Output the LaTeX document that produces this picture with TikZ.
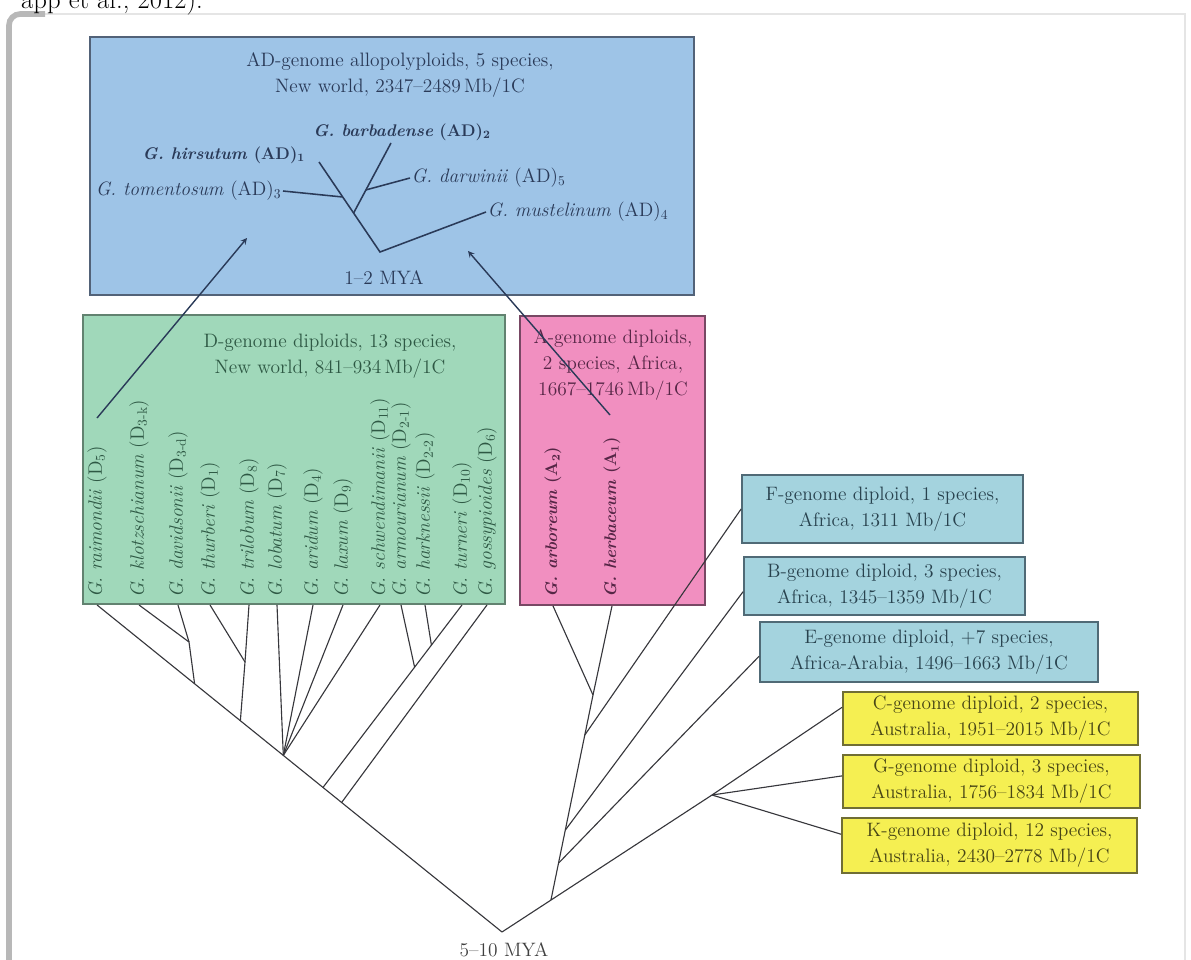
\documentclass[tikz,border=0pt]{standalone}
\usetikzlibrary{calc}
\definecolor{adfill}{RGB}{158,196,231}
\definecolor{addraw}{RGB}{82,98,120}
\definecolor{adtext}{RGB}{42,58,88}
\definecolor{dfill}{RGB}{160,216,186}
\definecolor{ddraw}{RGB}{98,130,112}
\definecolor{dtext}{RGB}{46,88,68}
\definecolor{afill}{RGB}{241,143,192}
\definecolor{adraw}{RGB}{120,72,100}
\definecolor{atext}{RGB}{86,38,70}
\definecolor{afrfill}{RGB}{164,211,222}
\definecolor{afrdraw}{RGB}{80,106,118}
\definecolor{afrtext}{RGB}{40,66,78}
\definecolor{ausfill}{RGB}{245,239,82}
\definecolor{ausdraw}{RGB}{112,110,52}
\definecolor{austext}{RGB}{72,70,22}
\definecolor{treeline}{RGB}{55,55,60}

\begin{document}
\begin{tikzpicture}[x=0.025cm,y=-0.025cm,>=stealth,
    every node/.style={font=\fontsize{13.8}{18.5}\selectfont},
    boldsp/.style={font=\fontsize{12}{14}\selectfont\bfseries},
    panel/.style={draw,line width=1.3pt,inner sep=0pt},
    genbox/.style={draw,line width=1.2pt,align=center,inner sep=0pt},
    dlabel/.style={rotate=90,anchor=west,inner sep=0pt,text=dtext},
    alabel/.style={rotate=90,anchor=west,inner sep=0pt,text=atext,boldsp},
    adline/.style={line width=1.1pt,adtext},
    tree/.style={line width=0.8pt,treeline},
    link/.style={->,line width=1pt,adtext}]
  \useasboundingbox (0,0) rectangle (1191,960);
  % page edge and the cut citation line above
  \draw[black!10,line width=0.8pt] (40,14) -- (1185,14) -- (1185,965);
  \draw[black!28,line width=4pt,rounded corners=8pt] (9,965) -- (9,14) -- (45,14);
  \node[anchor=base east,inner sep=0pt,font=\fontsize{19}{22}\selectfont] (cite) at (203,9)
    {app et al., 2012).};

  % coloured panels
  \node[panel,fill=adfill,draw=addraw,minimum width=15.1cm,minimum height=6.45cm] (ADbox) at (392,166) {};
  \node[panel,fill=dfill,draw=ddraw,minimum width=10.55cm,minimum height=7.225cm] (Dbox) at (294,459.5) {};
  \node[panel,fill=afill,draw=adraw,minimum width=4.625cm,minimum height=7.225cm] (Abox) at (612.5,460.5) {};

  \node[text=adtext,align=center] (ADtitle) at (400,75)
    {AD-genome allopolyploids, 5 species,\\New world, 2347--2489\,Mb/1C};
  \node[text=dtext,align=center] (Dtitle) at (330,356)
    {D-genome diploids, 13 species,\\New world, 841--934\,Mb/1C};
  \node[text=atext,align=center] (Atitle) at (613,365)
    {A-genome diploids,\\2 species, Africa,\\1667--1746\,Mb/1C};

  % AD clade
  \node[text=adtext,boldsp] (bar) at (402,132) {\textit{G. barbadense} (AD)\textsubscript{2}};
  \node[text=adtext,boldsp,anchor=east] (hir) at (310,155) {\textit{G. hirsutum} (AD)\textsubscript{1}};
  \node[text=adtext,anchor=east,inner sep=1pt] (tom) at (283,191) {\textit{G. tomentosum} (AD)\textsubscript{3}};
  \node[text=adtext,anchor=west,inner sep=1pt] (dar) at (410,178) {\textit{G. darwinii} (AD)\textsubscript{5}};
  \node[text=adtext,anchor=west,inner sep=1pt] (mus) at (486,212) {\textit{G. mustelinum} (AD)\textsubscript{4}};
  \node[text=adtext] (mya12) at (384,278) {1--2 MYA};
  \coordinate (rAD) at (380,252);
  \coordinate (tHir) at (319,162);
  \coordinate (tBar) at (391,143);
  \coordinate (nTom) at ($(rAD)!0.611!(tHir)$);
  \coordinate (nBar) at ($(rAD)!0.433!(tHir)$);
  \coordinate (nDar) at ($(nBar)!0.33!(tBar)$);
  \draw[adline] (tHir) -- (rAD) -- (mus.west);
  \draw[adline] (nBar) -- (tBar);
  \draw[adline] (tom.east) -- (nTom);
  \draw[adline] (nDar) -- (dar.west);

  % D-genome species
  \node[dlabel] (dRai) at (97,598) {\textit{G. raimondii} (D\textsubscript{5})};
  \node[dlabel] (dKlo) at (139,598) {\textit{G. klotzschianum} (D\textsubscript{3-k})};
  \node[dlabel] (dDav) at (178,598) {\textit{G. davidsonii} (D\textsubscript{3-d})};
  \node[dlabel] (dThu) at (210,598) {\textit{G. thurberi} (D\textsubscript{1})};
  \node[dlabel] (dTri) at (249,598) {\textit{G. trilobum} (D\textsubscript{8})};
  \node[dlabel] (dLob) at (277,598) {\textit{G. lobatum} (D\textsubscript{7})};
  \node[dlabel] (dAri) at (313,598) {\textit{G. aridum} (D\textsubscript{4})};
  \node[dlabel] (dLax) at (343,598) {\textit{G. laxum} (D\textsubscript{9})};
  \node[dlabel] (dSch) at (380,598) {\textit{G. schwendimanii} (D\textsubscript{11})};
  \node[dlabel] (dArm) at (401,598) {\textit{G. armourianum} (D\textsubscript{2-1})};
  \node[dlabel] (dHar) at (425,598) {\textit{G. harknessii} (D\textsubscript{2-2})};
  \node[dlabel] (dTur) at (462,598) {\textit{G. turneri} (D\textsubscript{10})};
  \node[dlabel] (dGos) at (487,598) {\textit{G. gossypioides} (D\textsubscript{6})};

  % A-genome species
  \node[alabel] (aArb) at (553,598) {\textit{G. arboreum} (A\textsubscript{2})};
  \node[alabel] (aHer) at (612,598) {\textit{G. herbaceum} (A\textsubscript{1})};

  % other diploid genomes
  \node[genbox,fill=afrfill,draw=afrdraw,text=afrtext,minimum width=7.025cm,minimum height=1.7cm] (Fbox) at (882.5,509)
    {F-genome diploid, 1 species,\\Africa, 1311 Mb/1C};
  \node[genbox,fill=afrfill,draw=afrdraw,text=afrtext,minimum width=7.025cm,minimum height=1.45cm] (Bbox) at (884.5,586)
    {B-genome diploid, 3 species,\\Africa, 1345--1359 Mb/1C};
  \node[genbox,fill=afrfill,draw=afrdraw,text=afrtext,minimum width=8.45cm,minimum height=1.5cm] (Ebox) at (929,652)
    {E-genome diploid, +7 species,\\Africa-Arabia, 1496--1663 Mb/1C};
  \node[genbox,fill=ausfill,draw=ausdraw,text=austext,minimum width=7.375cm,minimum height=1.325cm] (Cbox) at (990.5,718.5)
    {C-genome diploid, 2 species,\\Australia, 1951--2015 Mb/1C};
  \node[genbox,fill=ausfill,draw=ausdraw,text=austext,minimum width=7.425cm,minimum height=1.325cm] (Gbox) at (991.5,781.5)
    {G-genome diploid, 3 species,\\Australia, 1756--1834 Mb/1C};
  \node[genbox,fill=ausfill,draw=ausdraw,text=austext,minimum width=7.375cm,minimum height=1.375cm] (Kbox) at (989.5,845.5)
    {K-genome diploid, 12 species,\\Australia, 2430--2778 Mb/1C};
  \node[text=black!75] (mya510) at (504,950) {5--10 MYA};

  % diploid tree
  \coordinate (root) at (502,932);
  \coordinate (tRai) at (dRai.west |- Dbox.south);
  \coordinate (tKlo) at (dKlo.west |- Dbox.south);
  \coordinate (tDav) at (dDav.west |- Dbox.south);
  \coordinate (tThu) at (dThu.west |- Dbox.south);
  \coordinate (tTri) at (dTri.west |- Dbox.south);
  \coordinate (tTur) at (dTur.west |- Dbox.south);
  \coordinate (n1) at ($(tRai)!0.241!(root)$);
  \coordinate (n2) at ($(tRai)!0.354!(root)$);
  \coordinate (n3) at ($(tRai)!0.460!(root)$);
  \coordinate (n4) at ($(tRai)!0.558!(root)$);
  \coordinate (n5) at ($(tRai)!0.604!(root)$);
  \coordinate (nK) at (189,642);
  \coordinate (nT) at (245,662);
  \coordinate (nArm) at ($(n4)!0.659!(tTur)$);
  \coordinate (nHar) at ($(n4)!0.78!(tTur)$);
  \draw[tree] (tRai) -- (root);
  \draw[tree] (tKlo) -- (nK) -- (n1);
  \draw[tree] (tDav) -- (nK);
  \draw[tree] (tThu) -- (nT) -- (n2);
  \draw[tree] (tTri) -- (nT);
  \draw[tree] (dLob.west |- Dbox.south) -- (n3);
  \draw[tree] (dAri.west |- Dbox.south) -- (n3);
  \draw[tree] (dLax.west |- Dbox.south) -- (n3);
  \draw[tree] (dSch.west |- Dbox.south) -- (n3);
  \draw[tree] (tTur) -- (n4);
  \draw[tree] (dArm.west |- Dbox.south) -- (nArm);
  \draw[tree] (dHar.west |- Dbox.south) -- (nHar);
  \draw[tree] (dGos.west |- Dbox.south) -- (n5);

  \coordinate (nCGK) at (712,795);
  \coordinate (nR) at ($(root)!0.233!(nCGK)$);
  \coordinate (nA) at (593,695);
  \coordinate (nF) at ($(nA)!0.195!(nR)$);
  \coordinate (nB) at ($(nA)!0.659!(nR)$);
  \coordinate (nE) at ($(nA)!0.82!(nR)$);
  \draw[tree] (root) -- (nCGK);
  \draw[tree] (aArb.west |- Abox.south) -- (nA) -- (nR);
  \draw[tree] (aHer.west |- Abox.south) -- (nA);
  \draw[tree] (nF) -- (Fbox.west);
  \draw[tree] (nB) -- ([yshift=-4pt]Bbox.west);
  \draw[tree] (nE) -- ([yshift=-3pt]Ebox.west);
  \draw[tree] (nCGK) -- ([yshift=8pt]Cbox.west);
  \draw[tree] (nCGK) -- ([yshift=4pt]Gbox.west);
  \draw[tree] (nCGK) -- ([yshift=8pt]Kbox.west);

  % hybridisation arrows
  \coordinate (tailD) at (97,418);
  \coordinate (tailA) at (610,415);
  \coordinate (headD) at (247,238);
  \coordinate (headA) at (468,251);
  \draw[link] (tailD) -- (headD);
  \draw[link] (tailA) -- (headA);
\end{tikzpicture}
\end{document}
